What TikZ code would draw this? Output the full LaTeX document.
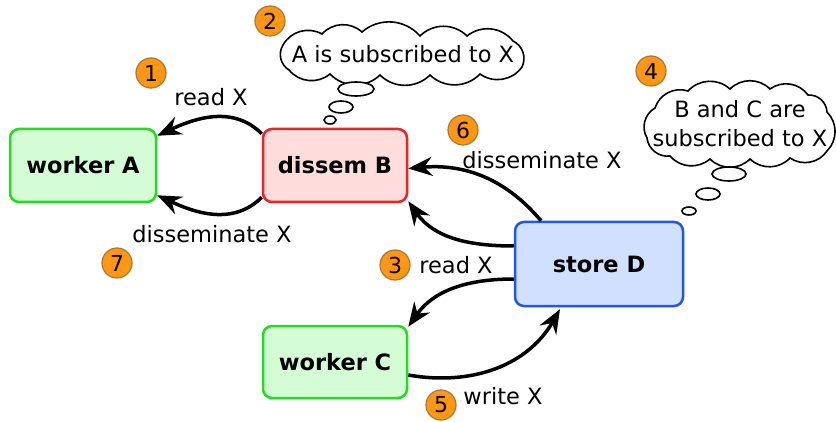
\documentclass[tikz,border=0pt]{standalone}
\usepackage{fontspec}
\setmainfont{DejaVu Sans}
\usetikzlibrary{arrows.meta,shapes.geometric}
\definecolor{wfill}{RGB}{213,253,213}
\definecolor{wdraw}{RGB}{34,221,34}
\definecolor{rfill}{RGB}{255,221,221}
\definecolor{rdraw}{RGB}{236,36,36}
\definecolor{bfill}{RGB}{209,224,255}
\definecolor{bdraw}{RGB}{34,85,238}
\definecolor{ofill}{RGB}{255,150,20}
\definecolor{odraw}{RGB}{170,120,50}
\tikzset{
  box/.style={rounded corners=9pt, line width=2.5pt, font=\fontsize{22.5}{27}\selectfont\bfseries, inner sep=0pt},
  worker/.style={box, fill=wfill, draw=wdraw},
  dissem/.style={box, fill=rfill, draw=rdraw},
  store/.style={box, fill=bfill, draw=bdraw},
  badge/.style={circle, fill=ofill, draw=odraw, line width=1.2pt, minimum size=30pt, inner sep=0pt, font=\fontsize{22}{22}\selectfont},
  lbl/.style={font=\fontsize{22.5}{29}\selectfont, inner sep=0pt},
  thought/.style={draw=black, fill=white, line width=1.6pt},
  puff/.style={bend left=45},
  bubble/.style={ellipse, draw=black, fill=white, line width=1.6pt, inner sep=0pt},
  flow/.style={line width=3.5pt, -{Stealth[length=24pt,width=19pt,inset=8pt]}}
}
\begin{document}
\begin{tikzpicture}[x=1pt,y=1pt]
\useasboundingbox (0,0) rectangle (836,421);
% nodes
\node[worker, minimum width=146pt, minimum height=73pt] (A) at (83,255.5) {worker A};
\node[dissem, minimum width=144pt, minimum height=73pt] (B) at (335,255.5) {dissem B};
\node[store, minimum width=168pt, minimum height=84pt] (D) at (599,157) {store D};
\node[worker, minimum width=144pt, minimum height=72pt] (C) at (335,59) {worker C};
% thought cloud 1
\draw[thought] (283,376) to[puff] (322,387) to[puff] (362,389) to[puff] (420,385)
  to[puff] (467,385) to[puff] (513,380) to[puff] (522,354) to[puff] (480,347)
  to[puff] (430,346) to[puff] (380,346) to[puff] (330,347) to[puff] (289,351)
  to[puff] cycle;
\node[lbl] (t1) at (403,367) {A is subscribed to X};
\node[bubble, minimum width=36pt, minimum height=14pt] (b11) at (356,332) {};
\node[bubble, minimum width=24pt, minimum height=12pt] (b12) at (341,314) {};
\node[bubble, minimum width=12pt, minimum height=8pt] (b13) at (330,301) {};
% thought cloud 2
\draw[thought] (655,313) to[puff] (688,330) to[puff] (730,332) to[puff] (770,332)
  to[puff] (808,326) to[puff] (827,309) to[puff] (827,270) to[puff] (790,263)
  to[puff] (750,262) to[puff] (710,262) to[puff] (670,265) to[puff] (647,283)
  to[puff] cycle;
\node[lbl, align=center] (t2) at (740,297) {B and C are\\subscribed to X};
\node[bubble, minimum width=34pt, minimum height=14pt] (b21) at (729,247) {};
\node[bubble, minimum width=24pt, minimum height=12pt] (b22) at (708,227) {};
\node[bubble, minimum width=14pt, minimum height=8pt] (b23) at (689,210) {};
% badges
\node[badge] (n1) at (151,348) {1};
\node[badge] (n2) at (270,400) {2};
\node[badge] (n3) at (395,156) {3};
\node[badge] (n4) at (651,350) {4};
\node[badge] (n5) at (441,16) {5};
\node[badge] (n6) at (463,291) {6};
\node[badge] (n7) at (117,158) {7};
% labels
\node[lbl] (l1) at (211,324) {read X};
\node[lbl] (l7) at (212,187) {disseminate X};
\node[lbl] (l6) at (542,261) {disseminate X};
\node[lbl] (l3) at (456,156) {read X};
\node[lbl] (l5) at (503,25) {write X};
% connectors
\coordinate (a1s) at ([yshift=-6pt]B.north west);
\coordinate (a1e) at ([yshift=-8pt]A.north east);
\draw[flow] (a1s) to[out=135,in=25] (a1e);
\coordinate (a7s) at ([yshift=6pt]B.south west);
\coordinate (a7e) at ([yshift=8pt]A.south east);
\draw[flow] (a7s) to[out=-135,in=-25] (a7e);
\coordinate (a6s) at ([xshift=-58pt]D.north);
\coordinate (a6e) at ([yshift=-3pt]B.east);
\draw[flow] (a6s) to[out=130,in=5] (a6e);
\coordinate (a3s) at ([yshift=18pt]D.west);
\coordinate (a3e) at ([yshift=2pt]B.south east);
\draw[flow] (a3s) to[out=180,in=-55] (a3e);
\coordinate (a4s) at ([yshift=-15pt]D.west);
\coordinate (a4e) at ([yshift=-2pt]C.north east);
\draw[flow] (a4s) to[out=180,in=55] (a4e);
\coordinate (a5s) at ([yshift=-13pt]C.east);
\coordinate (a5e) at ([xshift=-39pt,yshift=-2pt]D.south);
\draw[flow] (a5s) to[out=-10,in=-120] (a5e);
\end{tikzpicture}
\end{document}
